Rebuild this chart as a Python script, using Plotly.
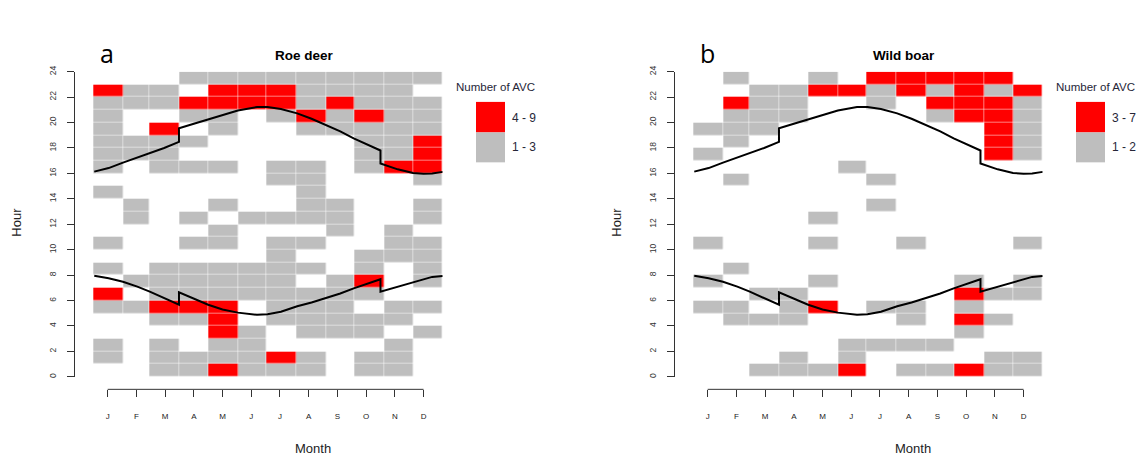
import plotly.graph_objects as go
from itertools import accumulate

# ---------------- data ----------------
month_labels = ['J', 'F', 'M', 'A', 'M', 'J', 'J', 'A', 'S', 'O', 'N', 'D']
month_days = [31, 28, 31, 30, 31, 30, 31, 31, 30, 31, 30, 31]
tick_days = [15, 45, 75, 105, 135, 165, 195, 225, 255, 285, 315, 345]
hour_ticks = [0, 2, 4, 6, 8, 10, 12, 14, 16, 18, 20, 22, 24]

# class codes per month: 0 = no AVC, 1 = low class (grey), 2 = high class (red)
# rows listed from hour 23 (top) down to hour 0 (bottom)
roe_deer_rows = [
    [0, 0, 0, 1, 1, 1, 1, 1, 1, 1, 1, 1],  # 23
    [2, 1, 1, 0, 2, 2, 2, 1, 1, 1, 1, 0],  # 22
    [1, 1, 1, 2, 2, 2, 2, 1, 2, 1, 1, 1],  # 21
    [1, 0, 0, 1, 1, 0, 1, 2, 1, 2, 1, 1],  # 20
    [1, 0, 2, 0, 1, 0, 0, 1, 1, 1, 1, 1],  # 19
    [1, 1, 1, 1, 0, 0, 0, 0, 0, 1, 1, 2],  # 18
    [1, 1, 1, 0, 0, 0, 0, 0, 0, 1, 1, 2],  # 17
    [1, 0, 1, 1, 1, 0, 1, 1, 0, 1, 2, 2],  # 16
    [0, 0, 0, 0, 0, 0, 1, 1, 0, 0, 0, 1],  # 15
    [1, 0, 0, 0, 0, 0, 0, 1, 0, 0, 0, 0],  # 14
    [0, 1, 0, 0, 1, 0, 0, 1, 1, 0, 0, 1],  # 13
    [0, 1, 0, 1, 0, 1, 1, 1, 1, 0, 0, 1],  # 12
    [0, 0, 0, 0, 1, 0, 0, 0, 1, 0, 1, 0],  # 11
    [1, 0, 0, 1, 1, 0, 1, 1, 0, 0, 1, 1],  # 10
    [0, 0, 0, 0, 0, 0, 1, 0, 0, 1, 1, 1],  # 9
    [1, 0, 1, 1, 1, 1, 1, 1, 0, 1, 0, 1],  # 8
    [0, 1, 1, 1, 1, 1, 1, 0, 1, 2, 0, 1],  # 7
    [2, 0, 1, 1, 1, 1, 1, 1, 1, 1, 0, 0],  # 6
    [1, 1, 2, 2, 2, 0, 1, 1, 1, 0, 1, 1],  # 5
    [0, 0, 1, 1, 2, 0, 1, 1, 1, 1, 1, 0],  # 4
    [0, 0, 0, 0, 2, 1, 0, 1, 1, 1, 0, 1],  # 3
    [1, 0, 1, 0, 1, 1, 0, 0, 0, 0, 1, 0],  # 2
    [1, 0, 1, 1, 1, 1, 2, 1, 0, 1, 1, 0],  # 1
    [0, 0, 1, 1, 2, 1, 1, 1, 0, 1, 1, 0],  # 0
]

wild_boar_rows = [
    [0, 1, 0, 0, 1, 0, 2, 2, 2, 2, 2, 0],  # 23
    [0, 0, 1, 1, 2, 2, 1, 2, 1, 2, 1, 2],  # 22
    [0, 2, 1, 1, 0, 0, 1, 0, 2, 2, 2, 1],  # 21
    [0, 1, 1, 1, 0, 0, 0, 0, 1, 2, 2, 1],  # 20
    [1, 1, 1, 0, 0, 0, 0, 0, 0, 0, 2, 1],  # 19
    [0, 1, 0, 0, 0, 0, 0, 0, 0, 0, 2, 1],  # 18
    [1, 0, 0, 0, 0, 0, 0, 0, 0, 0, 2, 1],  # 17
    [0, 0, 0, 0, 0, 1, 0, 0, 0, 0, 0, 0],  # 16
    [0, 1, 0, 0, 0, 0, 1, 0, 0, 0, 0, 0],  # 15
    [0, 0, 0, 0, 0, 0, 0, 0, 0, 0, 0, 0],  # 14
    [0, 0, 0, 0, 0, 0, 1, 0, 0, 0, 0, 0],  # 13
    [0, 0, 0, 0, 1, 0, 0, 0, 0, 0, 0, 0],  # 12
    [0, 0, 0, 0, 0, 0, 0, 0, 0, 0, 0, 0],  # 11
    [1, 0, 0, 0, 1, 0, 0, 1, 0, 0, 0, 1],  # 10
    [0, 0, 0, 0, 0, 0, 0, 0, 0, 0, 0, 0],  # 9
    [0, 1, 0, 0, 0, 0, 0, 0, 0, 0, 0, 0],  # 8
    [1, 0, 0, 0, 1, 0, 0, 0, 0, 1, 0, 1],  # 7
    [0, 0, 1, 1, 0, 0, 0, 0, 0, 2, 1, 1],  # 6
    [1, 1, 0, 1, 2, 0, 1, 1, 0, 1, 0, 0],  # 5
    [0, 1, 1, 1, 0, 0, 0, 1, 0, 2, 1, 0],  # 4
    [0, 0, 0, 0, 0, 0, 0, 0, 0, 1, 0, 0],  # 3
    [0, 0, 0, 0, 0, 1, 1, 1, 1, 0, 0, 0],  # 2
    [0, 0, 0, 1, 0, 1, 0, 0, 0, 0, 1, 1],  # 1
    [0, 0, 1, 1, 1, 2, 0, 1, 1, 2, 1, 1],  # 0
]

roe_deer_classes = ['1 - 3', '4 - 9']
wild_boar_classes = ['1 - 2', '3 - 7']

# sunrise / sunset (local clock time, hours); day 89.5 and 300 are DST switches
sun_days = [1, 16, 31, 46, 59, 74, 89.5, 89.5, 105, 120, 135, 151, 171, 182, 196, 213,
            228, 242, 258, 272, 286, 300, 300, 318, 334, 345, 354, 365]
sunrise_h = [7.95, 7.75, 7.48, 7.10, 6.70, 6.20, 5.67, 6.65, 6.15, 5.67, 5.30, 5.05, 4.88, 4.92,
             5.12, 5.55, 5.85, 6.19, 6.55, 6.96, 7.30, 7.68, 6.70, 7.09, 7.48, 7.72, 7.86, 7.94]
sunset_h = [16.14, 16.42, 16.85, 17.25, 17.60, 18.00, 18.48, 19.55, 19.90, 20.25, 20.62, 20.95,
            21.22, 21.22, 21.06, 20.72, 20.30, 19.82, 19.30, 18.75, 18.25, 17.80, 16.78, 16.32,
            16.04, 15.97, 16.00, 16.12]

# ---------------- layout helpers ----------------
PAGE_MARGIN = 8          # default body margin of the html page
W, H = 1144 - 2 * PAGE_MARGIN, 464 - 2 * PAGE_MARGIN


def px(x):
    return (x - PAGE_MARGIN) / W


def py(y):
    return 1 - (y - PAGE_MARGIN) / H


RED = '#FF0000'
GREY = '#BEBEBE'
AXC = '#333333'
FONT = 'Liberation Sans, Arial, sans-serif'

month_edges = [0] + list(accumulate(month_days))
hour_edges = list(range(25))

# pixel geometry of a panel: day 0 at x=93.3, day 365 at x=442.7, y axis line at x=75
DAY0_PX, DAY365_PX, YAXIS_PX = 93.3, 442.7, 75.0
px_per_day = (DAY365_PX - DAY0_PX) / month_edges[-1]
x_min_day = (YAXIS_PX - DAY0_PX) / px_per_day

fig = go.Figure()

panels = [
    dict(name='Roe deer', letter='a', rows=roe_deer_rows, classes=roe_deer_classes, off=0, xa='x', ya='y'),
    dict(name='Wild boar', letter='b', rows=wild_boar_rows, classes=wild_boar_classes, off=600, xa='x2', ya='y2'),
]

shapes = []
annotations = []
for p in panels:
    z = [[(v if v > 0 else None) for v in row] for row in reversed(p['rows'])]
    fig.add_trace(go.Heatmap(
        x=month_edges, y=hour_edges, z=z, zmin=1, zmax=2,
        colorscale=[[0, GREY], [0.5, GREY], [0.5, RED], [1, RED]],
        showscale=False, xgap=0.5, ygap=0.5, hoverinfo='skip',
        xaxis=p['xa'], yaxis=p['ya']))
    for ys in (sunrise_h, sunset_h):
        fig.add_trace(go.Scatter(
            x=sun_days, y=ys, mode='lines', line=dict(color='black', width=2),
            showlegend=False, hoverinfo='skip', xaxis=p['xa'], yaxis=p['ya']))

    o = p['off']
    # x axis line from first to last tick (R style)
    shapes.append(dict(type='line', xref=p['xa'], yref='paper', x0=tick_days[0], x1=tick_days[-1],
                       y0=py(389.3), y1=py(389.3), line=dict(color=AXC, width=1)))
    # legend boxes
    shapes.append(dict(type='rect', xref='paper', yref='paper', x0=px(476 + o), x1=px(505 + o),
                       y0=py(128.3), y1=py(97.3), fillcolor=RED, line=dict(width=0)))
    shapes.append(dict(type='rect', xref='paper', yref='paper', x0=px(476 + o), x1=px(505 + o),
                       y0=py(158.7), y1=py(128.3), fillcolor=GREY, line=dict(width=0)))
    annotations += [
        dict(text='Number of AVC', x=px(495.5 + o), y=py(82), font=dict(size=11.5, color='#262638', family=FONT)),
        dict(text=p['classes'][1], x=px(523.5 + o), y=py(113.3), font=dict(size=12, color='#262638', family=FONT)),
        dict(text=p['classes'][0], x=px(523.5 + o), y=py(143.5), font=dict(size=12, color='#262638', family=FONT)),
        dict(text='<b>%s</b>' % p['name'], x=px(304 + o), y=py(50), font=dict(size=13.5, color='black', family=FONT)),
        dict(text=p['letter'], x=px(107 + o), y=py(48), font=dict(size=25, color='black', family='Open Sans, sans-serif')),
        dict(text='Hour', x=px(17 + o), y=py(220), textangle=-90, font=dict(size=13, color='#222', family=FONT)),
        dict(text='Month', x=px(313 + o), y=py(449), font=dict(size=13, color='#222', family=FONT)),
    ]

for a in annotations:
    a.update(xref='paper', yref='paper', showarrow=False, xanchor='center', yanchor='middle')

xcommon = dict(range=[x_min_day, month_edges[-1]], anchor='free', position=py(389.3), showgrid=False,
               zeroline=False, showline=False, ticks='outside', ticklen=7, tickcolor=AXC, tickwidth=1,
               tickmode='array', tickvals=tick_days, ticktext=month_labels,
               tickfont=dict(size=8, color='#222', family=FONT), ticklabelstandoff=12, fixedrange=True)
ycommon = dict(range=[hour_ticks[0], hour_ticks[-1]], domain=[py(376.6), py(66.6)], showgrid=False,
               zeroline=False, showline=True, linecolor=AXC, linewidth=1, ticks='outside', ticklen=7,
               tickcolor=AXC, tickwidth=1, tickmode='array', tickvals=hour_ticks, tickangle=-90,
               tickfont=dict(size=8.5, color='#333', family=FONT), ticklabelstandoff=8, fixedrange=True)

fig.update_layout(
    width=W, height=H, margin=dict(l=0, r=0, t=0, b=0),
    paper_bgcolor='white', plot_bgcolor='white', showlegend=False,
    xaxis=dict(domain=[px(YAXIS_PX), px(DAY365_PX)], **xcommon),
    xaxis2=dict(domain=[px(YAXIS_PX + 600), px(DAY365_PX + 600)], **xcommon),
    yaxis=dict(anchor='x', **ycommon),
    yaxis2=dict(anchor='x2', **ycommon),
    shapes=shapes, annotations=annotations,
)

fig.write_html('out.html')
